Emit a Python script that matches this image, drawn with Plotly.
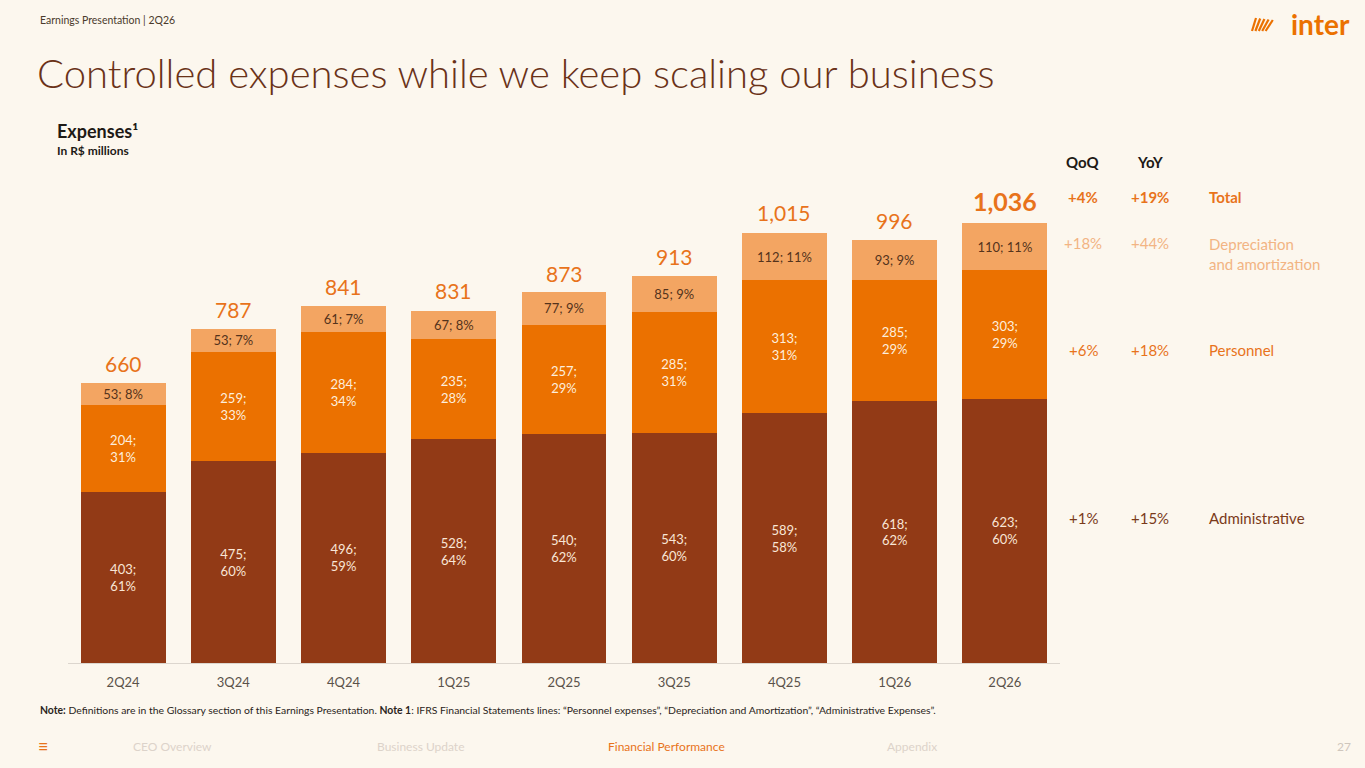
import plotly.graph_objects as go

# chart data
quarters = ["2Q24", "3Q24", "4Q24", "1Q25", "2Q25", "3Q25", "4Q25", "1Q26", "2Q26"]
administrative = [403, 475, 496, 528, 540, 543, 589, 618, 623]
administrative_pct = [61, 60, 59, 64, 62, 60, 58, 62, 60]
personnel = [204, 259, 284, 235, 257, 285, 313, 285, 303]
personnel_pct = [31, 33, 34, 28, 29, 31, 31, 29, 29]
depreciation = [53, 53, 61, 67, 77, 85, 112, 93, 110]
depreciation_pct = [8, 7, 7, 8, 9, 9, 11, 9, 11]
totals = [660, 787, 841, 831, 873, 913, 1015, 996, 1036]

# growth table on the right
row_names = ["Total", "Depreciation<br>and amortization", "Personnel", "Administrative"]
qoq = ["+4%", "+18%", "+6%", "+1%"]
yoy = ["+19%", "+44%", "+18%", "+15%"]

BG = "#FCF7EE"
DARK = "#923A16"
ORANGE = "#EB7100"
LIGHT = "#F3A562"
FONT = "Lato"

W, H = 1365, 768


def px(x):
    return x / W


def py(y):
    return 1 - y / H


fig = go.Figure()

fig.add_trace(go.Bar(
    x=quarters, y=administrative, name="Administrative",
    marker=dict(color=DARK, line=dict(width=0)),
    text=[f"{v};<br>{p}%" for v, p in zip(administrative, administrative_pct)],
    textposition="inside", insidetextanchor="middle", textangle=0,
    textfont=dict(family=FONT, size=14, color="#F9E6D6"),
))
fig.add_trace(go.Bar(
    x=quarters, y=personnel, name="Personnel",
    marker=dict(color=ORANGE, line=dict(width=0)),
    text=[f"{v};<br>{p}%" for v, p in zip(personnel, personnel_pct)],
    textposition="inside", insidetextanchor="middle", textangle=0,
    textfont=dict(family=FONT, size=14, color="#FDEEDD"),
))
fig.add_trace(go.Bar(
    x=quarters, y=depreciation, name="Depreciation and amortization",
    marker=dict(color=LIGHT, line=dict(width=0)),
    text=[f"{v}; {p}%" for v, p in zip(depreciation, depreciation_pct)],
    textposition="inside", insidetextanchor="middle", textangle=0,
    textfont=dict(family=FONT, size=13, color="#54331C"),
))

# totals above each stack, last one highlighted
for i, (q, t) in enumerate(zip(quarters, totals)):
    last = i == len(quarters) - 1
    fig.add_annotation(
        x=q, y=t, xref="x", yref="y", yanchor="bottom", yshift=5,
        text=f"<b>{t:,}</b>" if last else f"{t:,}", showarrow=False,
        font=dict(family=FONT, size=25 if last else 21, color="#E8731B"),
    )

annots = []


def txt(x, y, s, size, color, xanchor="left", weight=None):
    f = dict(family=FONT, size=size, color=color)
    if weight:
        f["weight"] = weight
    annots.append(dict(
        x=px(x), y=py(y), xref="paper", yref="paper", text=s, showarrow=False,
        xanchor=xanchor, yanchor="middle", align="left", font=f,
    ))


txt(38, 20, "Earnings Presentation | 2Q26", 10.5, "#4A3A2C")
txt(35, 73, "Controlled expenses while we keep scaling our business", 40, "#6A3218", weight=300)
txt(55, 131, "<b>Expenses¹</b>", 18, "#1E1A16")
txt(55, 150, "<b>In R$ millions</b>", 12, "#1E1A16")

# table
txt(1083, 162, "<b>QoQ</b>", 15, "#1E1A16", "center")
txt(1150, 162, "<b>YoY</b>", 15, "#1E1A16", "center")
row_y = [197, 254, 350, 518]
row_col = ["#E8731B", "#F2B483", "#E8731B", "#7A3A1A"]
for name, q, yv, ry, c in zip(row_names, qoq, yoy, row_y, row_col):
    bold = name == "Total"
    qy = ry if "<br>" not in name else ry - 11
    txt(1083, qy, f"<b>{q}</b>" if bold else q, 15, c, "center")
    txt(1150, qy, f"<b>{yv}</b>" if bold else yv, 15, c, "center")
    txt(1207, ry, f"<b>{name}</b>" if bold else name, 15, c)

# note + footer nav
txt(38, 710, "<b>Note:</b> Definitions are in the Glossary section of this Earnings Presentation. "
    "<b>Note 1</b>: IFRS Financial Statements lines: “Personnel expenses”, “Depreciation and Amortization”, "
    "“Administrative Expenses”.", 10.4, "#2A2420")
txt(43, 746, "≡", 18, "#E8731B", "center")
txt(172, 746, "CEO Overview", 12, "#DCD3CA", "center")
txt(420, 746, "Business Update", 12, "#DCD3CA", "center")
txt(666, 746, "Financial Performance", 12, "#E8731B", "center")
txt(912, 746, "Appendix", 12, "#DCD3CA", "center")
txt(1353, 746, "27", 12, "#CFC6BD", "right")

# logo: fan of stripes + wordmark
txt(1352, 24, "<b>inter</b>", 28, "#EB7100", "right", weight=900)
shapes = []
for k in range(5):
    shapes.append(dict(
        type="line", xref="paper", yref="paper",
        x0=px(1252 + k * 3.4), y0=py(31), x1=px(1256 + k * 4.2), y1=py(18 + k * 0.5),
        line=dict(color="#EB7100", width=2.2),
    ))

fig.update_layout(
    width=W, height=H,
    margin=dict(l=0, r=0, t=0, b=0),
    paper_bgcolor=BG, plot_bgcolor=BG,
    barmode="stack", bargap=0.23,
    showlegend=False,
    uniformtext=dict(minsize=13, mode="show"),
    annotations=list(fig.layout.annotations) + annots,
    shapes=shapes,
    xaxis=dict(
        domain=[px(68), px(1060)], showgrid=False, zeroline=False,
        showline=True, linecolor="#DCD6CE", linewidth=1, ticks="",
        ticklabelstandoff=7,
        tickfont=dict(family=FONT, size=13, color="#5A524A"),
    ),
    yaxis=dict(
        domain=[py(663), py(150)], range=[0, 1209], visible=False,
        showgrid=False, zeroline=False,
    ),
)

fig.write_html(
    "out.html",
    config={"displayModeBar": False},
    post_script="document.body.style.margin='0';document.body.style.background='%s';" % BG,
)
